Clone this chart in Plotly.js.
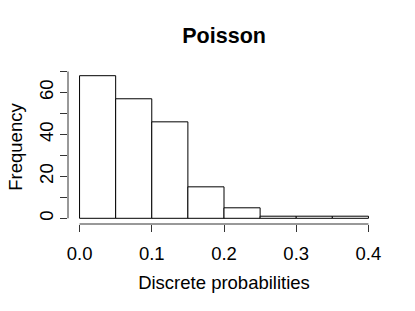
<!DOCTYPE html>
<html>
<head>
<meta charset="utf-8">
<script src="https://cdn.plot.ly/plotly-3.0.1.min.js"></script>
<style>html,body{margin:0;padding:0;background:#fff;}#chart{width:415px;height:311px;}</style>
</head>
<body>
<div id="chart"></div>
<script>
const breaks = [0.0, 0.05, 0.1, 0.15, 0.2, 0.25, 0.3, 0.35, 0.4];
const counts = [68, 57, 46, 15, 5, 1, 1, 1];
const xTickVals = [0.0, 0.1, 0.2, 0.3, 0.4];
const xTickText = ["0.0", "0.1", "0.2", "0.3", "0.4"];
const yTickVals = [0, 10, 20, 30, 40, 50, 60, 70];
const yTickText = ["0", "", "20", "", "40", "", "60", ""];
const titleText = "Poisson";
const xLabel = "Discrete probabilities";
const yLabel = "Frequency";

const mids = counts.map((c, i) => (breaks[i] + breaks[i + 1]) / 2);
const widths = counts.map((c, i) => breaks[i + 1] - breaks[i]);

const xMin = breaks[0], xMax = breaks[breaks.length - 1];
const xPad = (xMax - xMin) * 0.04;
const yMaxC = Math.max(...counts);
const yPad = yMaxC * 0.04;

const font = "Liberation Sans, Arial, Helvetica, sans-serif";
const axisColor = "#333";
const fs = 18.5;

const data = [{
  type: "bar",
  x: mids,
  y: counts,
  width: widths,
  marker: {color: "#ffffff", line: {color: "#000000", width: 1}},
  hoverinfo: "skip"
}];

const layout = {
  width: 415, height: 311,
  margin: {l: 68, r: 35, t: 70, b: 87},
  paper_bgcolor: "#fff", plot_bgcolor: "#fff",
  showlegend: false,
  bargap: 0,
  font: {family: font, size: fs, color: "#000"},
  title: {text: "<b>" + titleText + "</b>", font: {family: font, size: 21.5, color: "#000"},
          x: 0.54, xanchor: "center", y: 0.8875, yanchor: "middle"},
  xaxis: {
    range: [xMin - xPad, xMax + xPad],
    showgrid: false, zeroline: false, showline: false,
    tickmode: "array", tickvals: xTickVals, ticktext: xTickText,
    ticks: "outside", ticklen: 7, tickcolor: axisColor, tickwidth: 1,
    ticklabelstandoff: 6,
    tickfont: {size: fs, family: font},
    title: {text: xLabel, font: {size: fs, family: font}, standoff: 12}
  },
  yaxis: {
    range: [-yPad, yMaxC + yPad],
    showgrid: false, zeroline: false, showline: false,
    tickmode: "array", tickvals: yTickVals, ticktext: yTickText,
    ticks: "outside", ticklen: 7, tickcolor: axisColor, tickwidth: 1,
    tickangle: -90,
    tickfont: {size: fs, family: font},
    title: {text: yLabel, font: {size: fs, family: font}, standoff: 8}
  },
  shapes: [
    {type: "line", xref: "x", yref: "paper", x0: xTickVals[0], x1: xTickVals[xTickVals.length - 1], y0: 0, y1: 0,
     line: {color: axisColor, width: 1}},
    {type: "line", xref: "paper", yref: "y", x0: 0, x1: 0, y0: yTickVals[0], y1: yTickVals[yTickVals.length - 1],
     line: {color: axisColor, width: 1}}
  ]
};

Plotly.newPlot("chart", data, layout, {displayModeBar: false, staticPlot: true});
</script>
</body>
</html>
